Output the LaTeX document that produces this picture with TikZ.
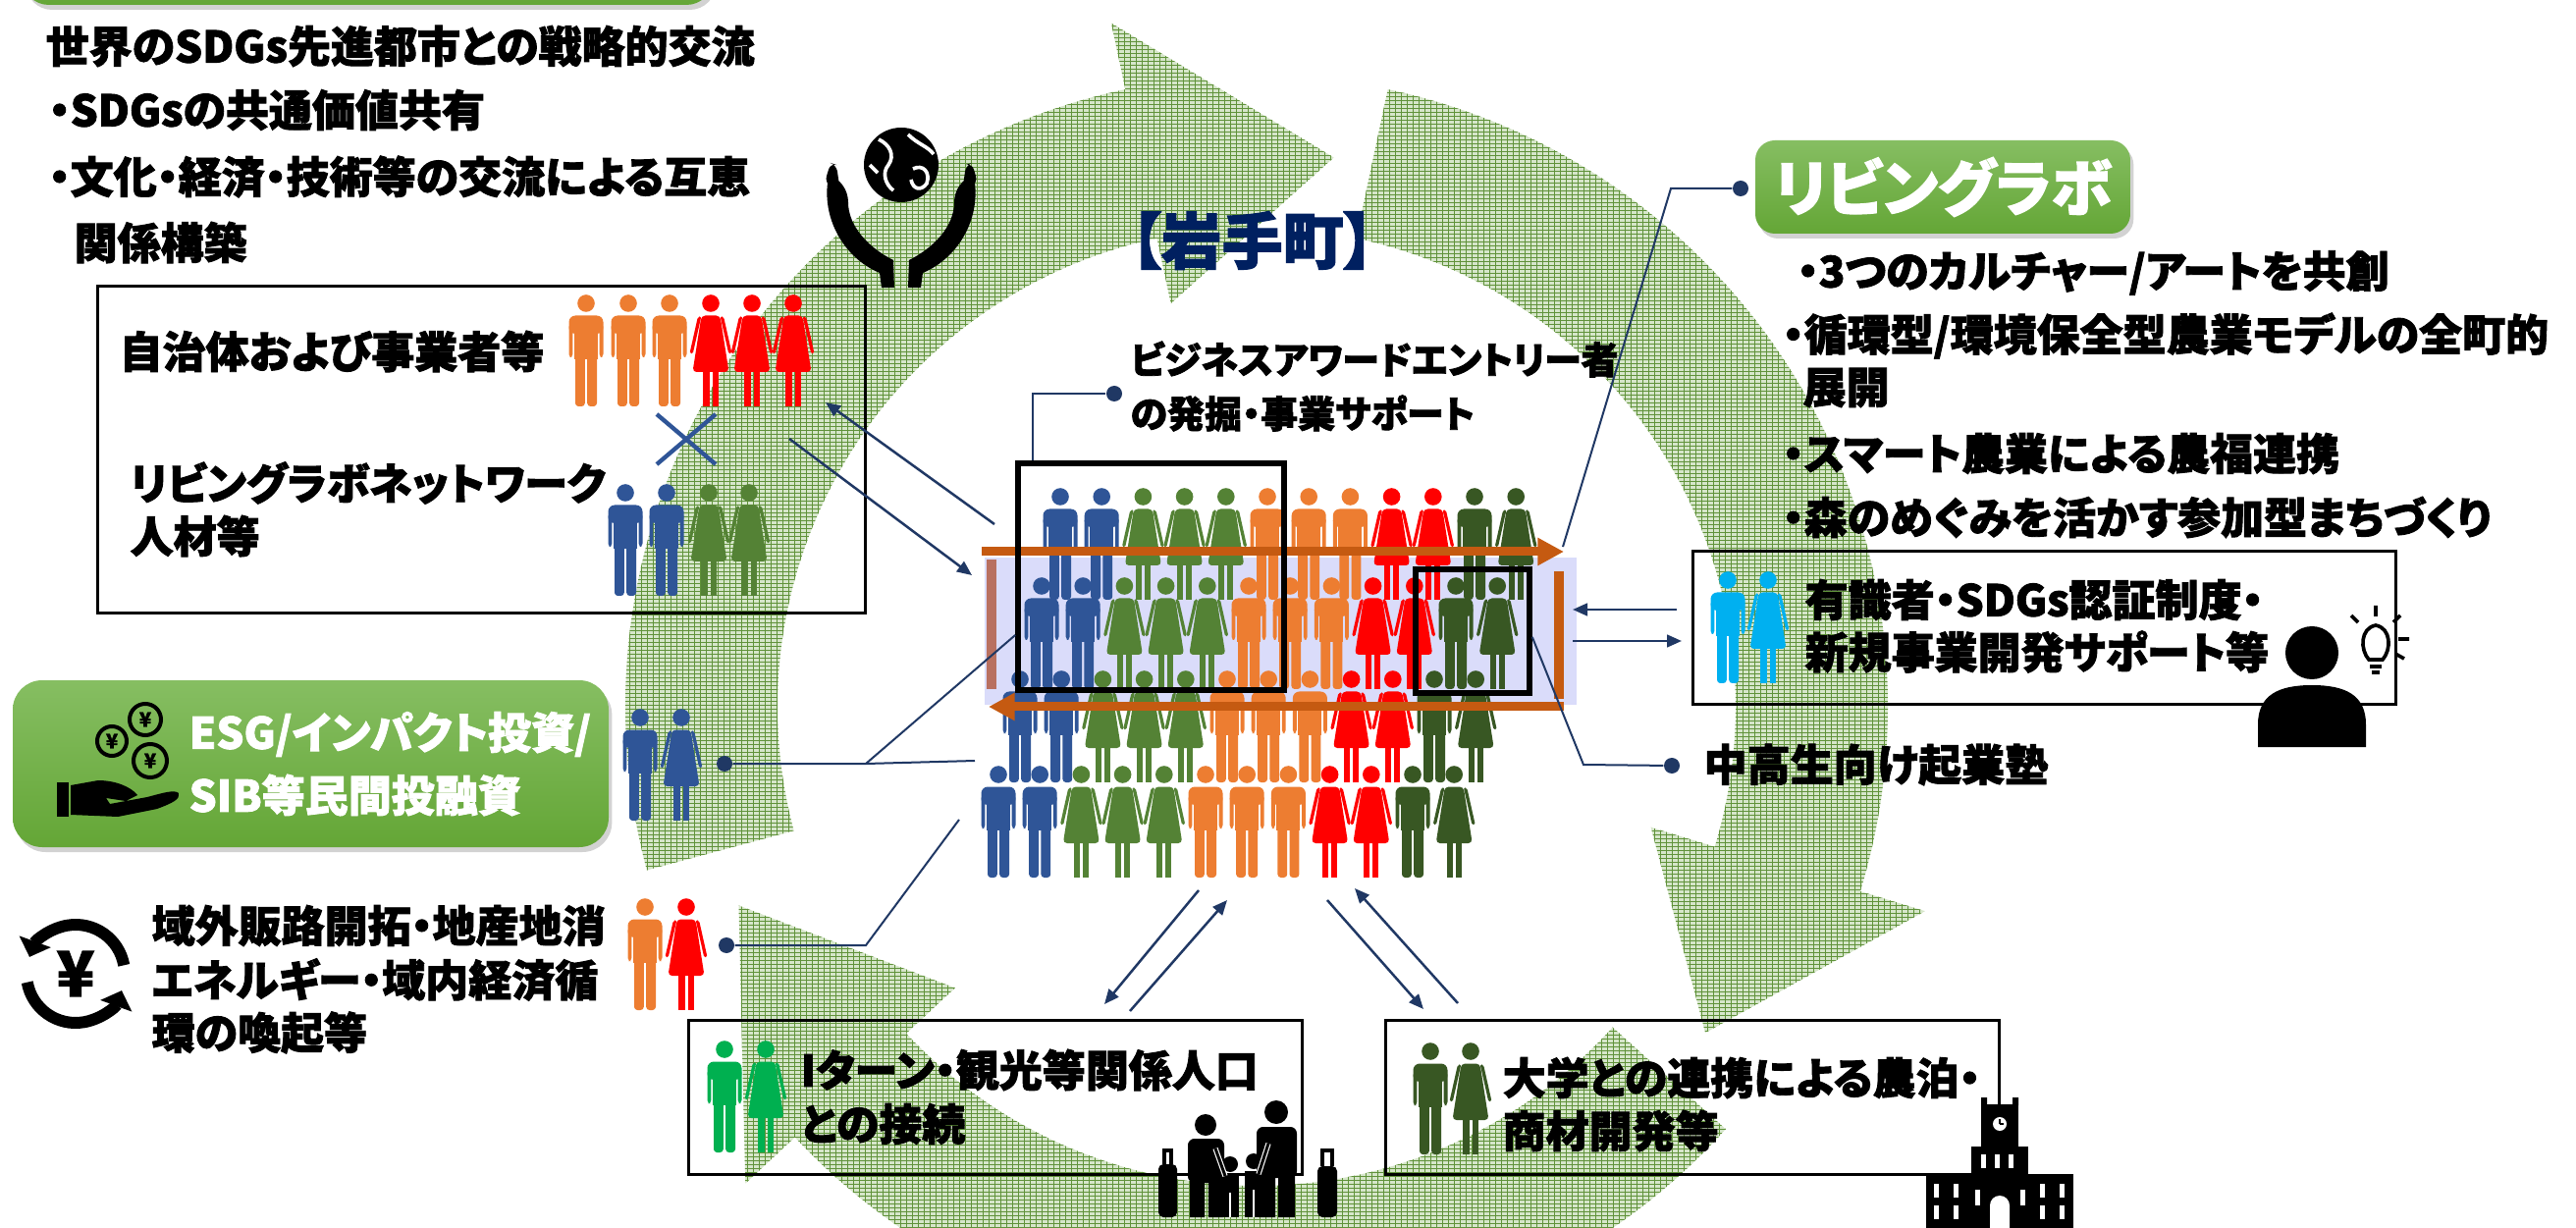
\documentclass[tikz,border=0pt]{standalone}
\usepackage{fontspec}
\newfontfamily\jp{Noto Sans CJK JP}[RawFeature=+palt, BoldFeatures={FakeBold=2}]
\usetikzlibrary{arrows.meta,patterns.meta,shadows,calc}

\definecolor{navy}{RGB}{32,56,100}
\definecolor{pblue}{RGB}{47,85,151}
\definecolor{pgreen}{RGB}{84,130,53}
\definecolor{porange}{RGB}{237,125,49}
\definecolor{pred}{RGB}{255,0,0}
\definecolor{pdkgreen}{RGB}{56,87,35}
\definecolor{pcyan}{RGB}{0,176,240}
\definecolor{pbright}{RGB}{0,176,80}
\definecolor{arrorange}{RGB}{197,90,17}
\definecolor{barbrown}{RGB}{184,112,96}
\definecolor{lav}{RGB}{218,220,250}
\definecolor{ringdark}{RGB}{96,146,58}
\definecolor{ringbase}{RGB}{214,230,202}
\definecolor{gtop}{RGB}{134,190,98}
\definecolor{gbot}{RGB}{100,166,54}
\definecolor{townnavy}{RGB}{0,32,96}

% pictogram of a man: top centre at (#1,#2), colour #3
\newcommand\figm[3]{%
  \begin{scope}[shift={(#1,#2)},fill=#3]
    \fill (0,9) circle[radius=8.8];
    \fill[rounded corners=2pt] (-17.5,21.5) rectangle (17.5,40);
    \fill[rounded corners=1pt] (-17.5,30) rectangle (-13.6,64);
    \fill[rounded corners=1pt] (13.6,30) rectangle (17.5,64);
    \fill (-12,30) rectangle (12,66);
    \fill[rounded corners=1pt] (-11,60) rectangle (-1.2,114);
    \fill[rounded corners=1pt] (1.2,60) rectangle (11,114);
  \end{scope}}
% pictogram of a woman
\newcommand\figw[3]{%
  \begin{scope}[shift={(#1,#2)},fill=#3]
    \fill (0,9) circle[radius=8.8];
    \fill[rounded corners=1.2pt] (-9.5,21.5) -- (9.5,21.5) -- (18.5,79) -- (-18.5,79) -- cycle;
    \fill[rounded corners=0.5pt] (-9.6,22) -- (-13.2,23) -- (-21.5,60) -- (-18.3,60.5) -- cycle;
    \fill[rounded corners=0.5pt] (9.6,22) -- (13.2,23) -- (21.5,60) -- (18.3,60.5) -- cycle;
    \fill (-7.6,77) rectangle (-1.5,114);
    \fill (1.5,77) rectangle (7.6,114);
  \end{scope}}

% one segment of the circular arrow: tail, head base, tip (degrees)
\newcommand\ringseg[3]{%
  \path[ringfill] ({1280+643*cos(#1)},{720-643*sin(#1)})
     arc[start angle={-(#1)}, end angle={-(#2)}, radius=643]
     -- ({1280+712*cos(#2)},{720-712*sin(#2)})
     -- ({1280+565*cos(#3)},{720-565*sin(#3)})
     -- ({1280+420*cos(#2)},{720-420*sin(#2)})
     -- ({1280+488*cos(#2)},{720-488*sin(#2)})
     arc[start angle={-(#2)}, end angle={-(#1)}, radius=488] -- cycle;}

\begin{document}
\begin{tikzpicture}[x=0.3pt,y=-0.3pt,
  ringfill/.style={preaction={fill=ringbase},
    preaction={pattern={Lines[angle=0,distance=1.2pt,line width=0.3pt]},pattern color=ringdark},
    pattern={Lines[angle=90,distance=1.8pt,line width=0.3pt]},pattern color=ringdark},
  gbox/.style={rectangle, rounded corners=8pt, top color=gtop, bottom color=gbot, draw=none,
    drop shadow={opacity=0.35,shadow xshift=1pt,shadow yshift=-1.5pt}},
  plainbox/.style={rectangle, draw=black, line width=0.9pt, inner sep=0pt},
  heavybox/.style={rectangle, draw=black, line width=1.7pt, inner sep=0pt},
  jt/.style={font=\jp\bfseries\fontsize{13.2}{16}\selectfont, inner sep=0pt, anchor=west},
  jts/.style={font=\jp\bfseries\fontsize{11.4}{14}\selectfont, inner sep=0pt, anchor=west},
  dot/.style={circle, fill=navy, inner sep=0pt, minimum size=4.8pt},
  lead/.style={draw=navy, line width=0.6pt},
  link/.style={draw=navy, line width=0.75pt, -{Triangle[length=4.5pt,width=3.8pt]}},
  bigarrow/.style={draw=arrorange, line width=2.7pt, -{Triangle[length=8pt,width=8pt]}}]

\useasboundingbox (0,0) rectangle (2624,1251);
\fill[white] (0,0) rectangle (2624,1251);

% ---------- circular arrows in the background ----------
\ringseg{195}{102}{82}
\ringseg{78}{-17}{-36}
\ringseg{-42}{-137}{-159}

% ---------- top left ----------
\node[gbox, minimum width=210.9pt, minimum height=25.5pt] (topbar) at (374.5,-37.5) {};
\node[jt] (tl1) at (46,47) {世界のSDGs先進都市との戦略的交流};
\node[jt] (tl2) at (49,112) {・SDGsの共通価値共有};
\node[jt] (tl3) at (49,180) {・文化・経済・技術等の交流による互恵};
\node[jt] (tl4) at (75,247) {関係構築};

% globe held by two hands
\fill (918,168) circle[radius=38];
\begin{scope}[white, line width=1.1pt]
  \draw (895,142) .. controls (906,147) and (912,158) .. (905,168) .. controls (898,176) and (902,188) .. (910,194);
  \draw (925,137) .. controls (935,147) and (945,149) .. (951,157);
  \draw (930,172) .. controls (940,167) and (948,175) .. (944,187) .. controls (938,195) and (930,193) .. (928,183);
  \draw (886,168) -- (894,176);
\end{scope}
\fill (844,180) .. controls (836,220) and (858,262) .. (896,278) -- (898,293) -- (911,293) -- (910,265)
  .. controls (884,252) and (864,230) .. (864,206) .. controls (864,194) and (856,181) .. cycle;
\fill[rounded corners=2pt] (840,186) -- (846,166) -- (852,168) -- (856,196) -- cycle;
\begin{scope}[shift={(1836,0)},xscale=-1]
  \fill (844,180) .. controls (836,220) and (858,262) .. (896,278) -- (898,293) -- (911,293) -- (910,265)
    .. controls (884,252) and (864,230) .. (864,206) .. controls (864,194) and (856,181) .. cycle;
  \fill[rounded corners=2pt] (840,186) -- (846,166) -- (852,168) -- (856,196) -- cycle;
\end{scope}

% ---------- box: local bodies and businesses ----------
\node[plainbox, minimum width=234.6pt, minimum height=99.9pt] (bodies) at (490,458.5) {};
\node[jt] (bodiestxt) at (121,358) {自治体および事業者等};
\node[jt] (labnet1) at (132,492) {リビングラボネットワーク};
\node[jt] (labnet2) at (132,546) {人材等};
\foreach \px in {597,640,682} {\figm{\px}{300}{porange}}
\foreach \px in {724,766,808} {\figw{\px}{300}{pred}}
\draw[pblue, line width=1.3pt] (669,422) -- (729,473) (729,422) -- (669,473);
\figm{637}{493}{pblue}
\figm{679}{493}{pblue}
\figw{722}{493}{pgreen}
\figw{763}{493}{pgreen}

% ---------- centre: population ----------
\node[fill=lav, minimum width=180.9pt, minimum height=45pt, inner sep=0pt] (band) at (1304.5,643) {};
\foreach \xo/\yo in {1080/497, 1061/588, 1039/683, 1017/780} {
  \foreach \k/\g/\c in {0/m/pblue,1/m/pblue,2/w/pgreen,3/w/pgreen,4/w/pgreen,5/m/porange,
                        6/m/porange,7/m/porange,8/w/pred,9/w/pred,10/m/pdkgreen,11/w/pdkgreen} {
    \csname fig\g\endcsname{\xo+\k*42.2}{\yo}{\c}
  }
}
\draw[barbrown, line width=2.8pt] (1010,570) -- (1010,702);
\draw[arrorange, line width=2.8pt] (1588,582) -- (1588,712);
\coordinate (flowL) at (1000,562);
\coordinate (flowR) at (1593,562);
\coordinate (backR) at (1593,720);
\coordinate (backL) at (1007,720);
\draw[bigarrow] (flowL) -- (flowR);
\draw[bigarrow] (backR) -- (backL);
\node[heavybox, minimum width=81.3pt, minimum height=69.3pt] (entry) at (1172.5,587.5) {};
\node[heavybox, minimum width=34.8pt, minimum height=37.8pt] (youth) at (1500,643) {};

\node[font=\jp\bfseries\fontsize{18.6}{20}\selectfont, text=townnavy, inner sep=0pt, anchor=west] (town) at (1151,245) {【岩手町】};

% business award entrants
\node[dot] (bizdot) at (1135,401) {};
\node[jts] (biz1) at (1151,366) {ビジネスアワードエントリー者};
\node[jts] (biz2) at (1151,421) {の発掘・事業サポート};
\coordinate (bizc) at (1052,401);
\draw[lead] (entry.north west -| bizc) -- (bizc) -- (bizdot);

% arrows between the bodies box and the centre
\coordinate (a1s) at (804,447);
\coordinate (a1e) at (990,586);
\coordinate (a2s) at (1013,534);
\coordinate (a2e) at (841,410);
\draw[link] (a1s) -- (a1e);
\draw[link] (a2s) -- (a2e);

% ---------- living lab ----------
\node[gbox, rounded corners=6pt, minimum width=114.6pt, minimum height=28.5pt,
      font=\jp\bfseries\fontsize{18.6}{20}\selectfont, text=white] (labo) at (1979,190.5) {リビングラボ};
\node[dot] (labodot) at (1773,192) {};
\coordinate (laboc) at (1702,192);
\coordinate (labofoot) at (1592,557);
\draw[lead] (labofoot) -- (laboc) -- (labodot);
\node[jt] (lb1) at (1830,278) {・3つのカルチャー/アートを共創};
\node[jt] (lb2) at (1815,342) {・循環型/環境保全型農業モデルの全町的};
\node[jt] (lb3) at (1836,395) {展開};
\node[jt] (lb4) at (1815,462) {・スマート農業による農福連携};
\node[jt] (lb5) at (1815,527) {・森のめぐみを活かす参加型まちづくり};

% ---------- experts box ----------
\node[plainbox, minimum width=214.8pt, minimum height=46.8pt] (experts) at (2082,640) {};
\figm{1760}{582}{pcyan}
\figw{1801}{582}{pcyan}
\node[jt] (ex1) at (1838,611) {有識者・SDGs認証制度・};
\node[jt] (ex2) at (1838,664) {新規事業開発サポート等};
\coordinate (e1s) at (1708,621);
\coordinate (e1e) at (1602,621);
\coordinate (e2s) at (1602,653);
\coordinate (e2e) at (1713,653);
\draw[link] (e1s) -- (e1e);
\draw[link] (e2s) -- (e2e);
% person with an idea
\fill (2355,665) circle[radius=27];
\fill (2300,761) -- (2300,738) .. controls (2300,708) and (2321,698) .. (2355,698)
  .. controls (2389,698) and (2410,708) .. (2410,738) -- (2410,761) -- cycle;
\draw[line width=1.1pt] (2413,672) .. controls (2404,662) and (2404,640) .. (2420,637)
  .. controls (2436,640) and (2436,662) .. (2427,672) -- cycle;
\draw[line width=1.1pt] (2414,679) -- (2426,679) (2416,685) -- (2424,685);
\draw[line width=1.1pt] (2420,628) -- (2420,617) (2402,634) -- (2395,627) (2438,634) -- (2445,627)
  (2443,651) -- (2454,651) (2440,666) -- (2449,671);

% ---------- youth entrepreneurship ----------
\node[dot] (youthdot) at (1703,780) {};
\node[jt] (youthtxt) at (1735,779) {中高生向け起業塾};
\coordinate (youthc) at (1613,779);
\draw[lead] (youth.east |- 0,649) -- (youthc) -- (youthdot);

% ---------- ESG investment ----------
\node[gbox, rounded corners=9pt, minimum width=182.1pt, minimum height=51pt] (esg) at (316.5,778) {};
\node[jt, text=white] (esg1) at (192,748) {ESG/インパクト投資/};
\node[jt, text=white] (esg2) at (192,810) {SIB等民間投融資};
\begin{scope}[line width=1.2pt]
  \draw (114,755) circle[radius=15];
  \draw (148,733) circle[radius=16];
  \draw (153,775) circle[radius=17];
\end{scope}
\node[font=\jp\bfseries\fontsize{6}{6}\selectfont] (c1) at (114,755) {¥};
\node[font=\jp\bfseries\fontsize{6}{6}\selectfont] (c2) at (148,733) {¥};
\node[font=\jp\bfseries\fontsize{6}{6}\selectfont] (c3) at (153,775) {¥};
\fill (58,797) rectangle (70,832);
\fill (72,800) -- (100,795) .. controls (118,795) and (134,802) .. (140,810) -- (128,816) -- (108,813)
  -- (112,819) -- (150,812) .. controls (165,808) and (178,804) .. (182,808) .. controls (184,814) and (176,818) .. (160,824)
  -- (120,832) -- (72,830) -- cycle;
\figm{652}{722}{pblue}
\figw{694}{722}{pblue}
\node[dot] (esgdot) at (738,778) {};
\coordinate (esgc) at (882,778);
\coordinate (esgh) at (993,775);
\draw[lead] (esgdot) -- (esgc) -- (entry.west |- 0,647);
\draw[lead] (esgc) -- (esgh);

% ---------- local economy ----------
\draw[line width=3.6pt, -{Triangle[length=5pt,width=10pt]}] (77,992) ++({50*cos(-10)},{50*sin(-10)})
  arc[start angle=-10, end angle=-160, radius=50];
\draw[line width=3.6pt, -{Triangle[length=5pt,width=10pt]}] (77,992) ++({50*cos(-190)},{50*sin(-190)})
  arc[start angle=-190, end angle=-340, radius=50];
\node[font=\jp\bfseries\fontsize{19}{19}\selectfont] (yen) at (77,992) {¥};
\node[jt] (le1) at (154,943) {域外販路開拓・地産地消};
\node[jt] (le2) at (154,998) {エネルギー・域内経済循};
\node[jt] (le3) at (154,1052) {環の喚起等};
\figm{657}{915}{porange}
\figw{699}{915}{pred}
\node[dot] (ledot) at (740,963) {};
\coordinate (lec) at (882,963);
\coordinate (lee) at (977,835);
\draw[lead] (ledot) -- (lec) -- (lee);

% ---------- I-turn / tourism box ----------
\node[plainbox, minimum width=187.5pt, minimum height=47.1pt] (iturn) at (1013.5,1117.5) {};
\figm{738}{1060}{pbright}
\figw{780}{1060}{pbright}
\node[jt] (it1) at (815,1090) {Iターン・観光等関係人口};
\node[jt] (it2) at (815,1145) {との接続};
\coordinate (b1s) at (1221,907);
\coordinate (b1e) at (1125,1023);
\coordinate (b2s) at (1151,1030);
\coordinate (b2e) at (1250,917);
\draw[link] (b1s) -- (b1e);
\draw[link] (b2s) -- (b2e);
% family with luggage
\fill (1228,1146) circle[radius=11];
\fill[rounded corners=2pt] (1210,1160) rectangle (1247,1205);
\fill (1212,1200) rectangle (1227,1240) (1231,1200) rectangle (1246,1240);
\fill (1300,1133) circle[radius=12];
\fill[rounded corners=2pt] (1280,1148) rectangle (1321,1200);
\fill (1282,1195) rectangle (1299,1240) (1302,1195) rectangle (1319,1240);
\fill (1253,1186) circle[radius=8];
\fill (1277,1183) circle[radius=8];
\fill (1244,1196) rectangle (1262,1240);
\fill (1268,1193) rectangle (1286,1240);
\draw[white, line width=1.6pt] (1248,1198) -- (1238,1170) (1282,1196) -- (1292,1165);
\draw[line width=0.9pt] (1248,1198) -- (1238,1170) (1282,1196) -- (1292,1165);
\draw[white, line width=0.8pt] (1253,1215) -- (1253,1240) (1277,1212) -- (1277,1240);
\fill[rounded corners=1.5pt] (1180,1186) rectangle (1199,1240);
\draw[line width=1.2pt] (1186,1186) -- (1186,1172) -- (1193,1172) -- (1193,1186);
\fill[rounded corners=1.5pt] (1342,1188) rectangle (1362,1240);
\draw[line width=1.2pt] (1347,1188) -- (1347,1172) -- (1357,1172) -- (1357,1188);

% ---------- university box ----------
\node[plainbox, minimum width=187.5pt, minimum height=47.1pt] (univ) at (1723.5,1117.5) {};
\figm{1457}{1062}{pdkgreen}
\figw{1498}{1062}{pdkgreen}
\node[jt] (un1) at (1530,1098) {大学との連携による農泊・};
\node[jt] (un2) at (1530,1152) {商材開発等};
\coordinate (b3s) at (1352,917);
\coordinate (b3e) at (1450,1028);
\coordinate (b4s) at (1485,1022);
\coordinate (b4e) at (1380,905);
\draw[link] (b3s) -- (b3e);
\draw[link] (b4s) -- (b4e);
% university building
\fill (2018,1118) rectangle (2024,1126) (2050,1118) rectangle (2056,1126);
\fill (2018,1125) rectangle (2056,1170);
\fill (2008,1168) rectangle (2066,1205);
\fill (1962,1196) rectangle (2112,1251);
\fill[white] (2037,1145) circle[radius=7];
\draw[line width=0.6pt] (2037,1145) -- (2037,1140) (2037,1145) -- (2041,1145);
\fill[white] (2027,1251) -- (2027,1228) arc[start angle=180, end angle=360, radius=10] -- (2047,1251) -- cycle;
\foreach \wx in {2018,2032,2046} {\fill[white] (\wx,1176) rectangle ++(5,14);}
\foreach \wx in {1970,1990,2078,2098} {\fill[white] (\wx,1206) rectangle ++(5,14); \fill[white] (\wx,1228) rectangle ++(5,14);}
\foreach \wx in {2012,2058} {\fill[white] (\wx,1212) rectangle ++(5,16);}

\end{tikzpicture}
\end{document}
